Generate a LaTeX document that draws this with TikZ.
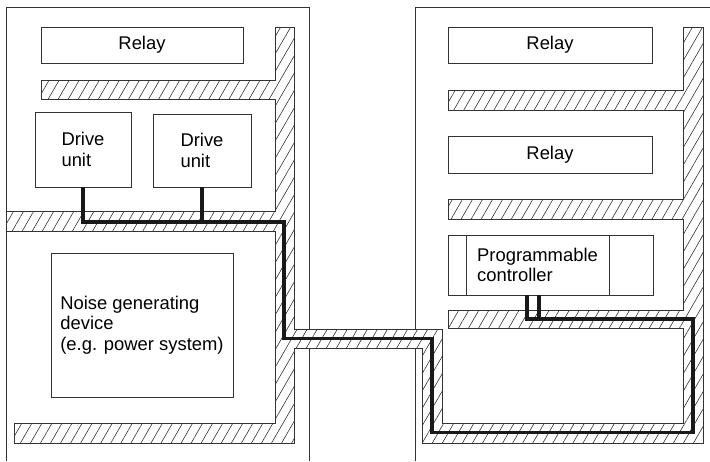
\documentclass[tikz,border=0pt]{standalone}
\usepackage{fontspec}
\setmainfont{Liberation Sans}
\usetikzlibrary{patterns.meta}
\begin{document}
\begin{tikzpicture}[x=1pt,y=-1pt,
  thin line/.style={draw=black!80, line width=0.8pt},
  box/.style={draw=black!80, line width=0.8pt, inner sep=0pt, align=left,
    font=\fontsize{18.4}{20.5}\selectfont},
  lbl/.style={inner sep=0pt, align=left, font=\fontsize{18.4}{20.5}\selectfont},
  duct/.style={draw=black!80, line width=0.8pt, preaction={fill=white},
    pattern={Lines[angle=60,distance=8.7pt,line width=0.55pt]}, pattern color=black!85},
  cable/.style={draw=black!90, line width=3.8pt}]
\useasboundingbox (0,0) rectangle (710,461);

% cabinets
\draw[thin line] (6,461) -- (6,7) -- (309,7) -- (309,461);
\draw[thin line] (415,461) -- (415,7) -- (710,7);

% wiring ducts
\draw[duct] (275,27) -- (294,27) -- (294,329) -- (442,329) -- (442,423) -- (683,423)
  -- (683,328) -- (448,328) -- (448,310) -- (683,310) -- (683,219) -- (448,219)
  -- (448,199) -- (683,199) -- (683,110) -- (448,110) -- (448,90) -- (683,90)
  -- (683,27) -- (703,27) -- (703,443) -- (422,443) -- (422,348) -- (294,348)
  -- (294,443) -- (14,443) -- (14,423) -- (275,423) -- (275,231) -- (6,231)
  -- (6,211) -- (275,211) -- (275,99) -- (41,99) -- (41,80) -- (275,80) -- cycle;

% left cabinet devices
\node[box, minimum width=202pt, minimum height=36pt] (relayL) at (142,45) {Relay};
\node[box, minimum width=96pt, minimum height=75pt] (du1) at (83,149.5) {Drive\\unit};
\node[box, minimum width=98pt, minimum height=73pt] (du2) at (202,150.5) {Drive\\unit};
\node[box, minimum width=182pt, minimum height=144pt] (noise) at (142,325)
  {Noise generating\\device\\(e.g. power system)};

% right cabinet devices
\node[box, minimum width=204pt, minimum height=36pt] (relayR1) at (550,45) {Relay};
\node[box, minimum width=204pt, minimum height=37pt] (relayR2) at (550,154.5) {Relay};
\node[box, minimum width=205pt, minimum height=60pt] (plc) at (550.5,265) {};
\draw[thin line] (466,235) -- (466,295);
\draw[thin line] (609,235) -- (609,295);
\node[lbl] (plct) at (537.5,265) {Programmable\\controller};

% cable route
\coordinate (k1) at (284,222);
\coordinate (k2) at (284,338.5);
\coordinate (k3) at (432,338.5);
\coordinate (k4) at (432,432.5);
\coordinate (k5) at (693,432.5);
\coordinate (k6) at (693,319);
\coordinate (k7) at (527,319);
\coordinate (k8) at (539,319);
\draw[cable] (du1.south) |- (k1) -- (k2) -- (k3) -- (k4) -- (k5) -- (k6) -- (k7) -- (k7 |- plc.south);
\draw[cable] (du2.south) -- (du2.south |- k1);
\draw[cable] (k8 |- plc.south) -- (k8);
\end{tikzpicture}
\end{document}
